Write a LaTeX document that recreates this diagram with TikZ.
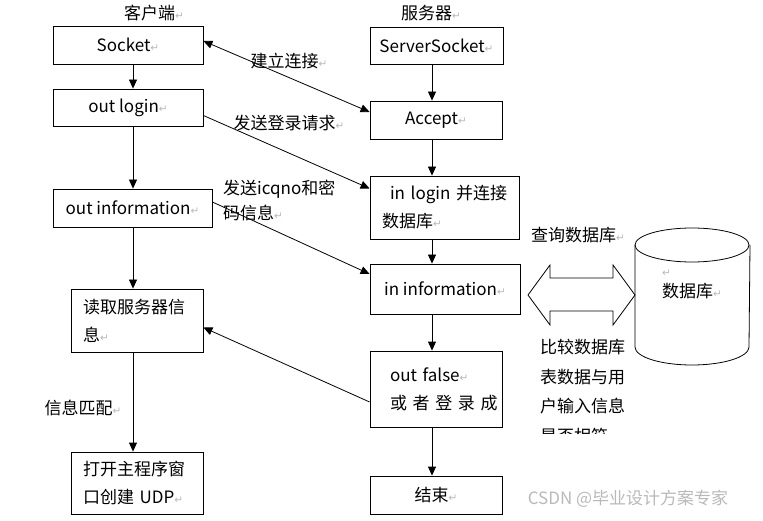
\documentclass[tikz,border=0pt]{standalone}
\usepackage{fontspec}
\setmainfont{Noto Sans CJK SC}
\newfontfamily\symfont{DejaVu Sans}
\usepackage{tikz}
\usetikzlibrary{arrows.meta}
\newcommand{\rt}{{\color{gray!55}\symfont\fontsize{10.5}{10.5}\selectfont ↵}}

\begin{document}
\begin{tikzpicture}[x=1pt,y=-1pt,
  font=\fontsize{17}{28}\selectfont,
  box/.style={draw,line width=.8pt,inner sep=0pt},
  tbox/.style={draw,line width=.8pt,align=left,inner xsep=12pt,inner ysep=0pt},
  lbl/.style={inner sep=0pt},
  arr/.style={line width=.8pt,-{Triangle[length=9pt,width=8pt]}},
  darr/.style={line width=.8pt,{Triangle[length=9pt,width=8pt]}-{Triangle[length=9pt,width=8pt]}}]
  \useasboundingbox (0,0) rectangle (763,521);
  \coordinate (lc) at (133,0);
  \coordinate (rc) at (432,0);
  \node[lbl] (client) at (154,13) {客户端\rt};
  \node[lbl] (serverlbl) at (431,13) {服务器\rt};
  \node[box,minimum width=150pt,minimum height=38pt] (socket) at (128,45) {Socket\rt};
  \node[box,minimum width=150pt,minimum height=37pt] (login) at (128,107.5) {out login\rt};
  \node[box,minimum width=159pt,minimum height=38pt] (info) at (132.5,208) {out information\rt};
  \node[tbox,text width=108pt,minimum height=63pt] (read) at (137,320.5) {读取服务器信\\息\rt};
  \node[tbox,text width=108pt,minimum height=62pt] (open) at (137,483) {打开主程序窗\\口创建 UDP\rt};
  \node[box,minimum width=133pt,minimum height=37pt] (server) at (436.5,45.5) {ServerSocket\rt};
  \node[box,minimum width=132pt,minimum height=38pt] (accept) at (436,120) {Accept\rt};
  \node[tbox,text width=125pt,minimum height=63pt] (inlogin) at (444.5,207.5) {\hspace*{8pt}\mbox{in login 并连接}\\数据库\rt};
  \node[box,minimum width=150pt,minimum height=50pt] (ininfo) at (445,289) {in information\rt};
  \node[tbox,text width=108pt,minimum height=76pt] (outfalse) at (436,389) {\hspace*{8pt}out false\rt\\\hspace*{8pt}\mbox{或 者 登 录 成}};
  \node[box,minimum width=132pt,minimum height=38pt] (finish) at (436,495) {结束\rt};
  \node[lbl] (connect) at (289,61) {建立连接\rt};
  \node[lbl] (request) at (289,123) {发送登录请求\rt};
  \node[lbl,anchor=west,align=left,font=\fontsize{17}{25}\selectfont] (send) at (223,200) {发送icqno和密\\码信息\rt};
  \node[lbl] (query) at (578,235) {查询数据库\rt};
  \node[lbl] (match) at (83,408) {信息匹配\rt};
  \draw[arr] (socket.south -| lc) -- (login.north -| lc);
  \draw[arr] (login.south -| lc) -- (info.north -| lc);
  \draw[arr] (info.south -| lc) -- (read.north -| lc);
  \draw[arr] (read.south -| lc) -- (open.north -| lc);
  \draw[arr] (server.south -| rc) -- (accept.north -| rc);
  \draw[arr] (accept.south -| rc) -- (inlogin.north -| rc);
  \draw[arr] (inlogin.south -| rc) -- (ininfo.north -| rc);
  \draw[arr] (ininfo.south -| rc) -- (outfalse.north -| rc);
  \draw[arr] (outfalse.south -| rc) -- (finish.north -| rc);
  \draw[darr] ([yshift=4pt]socket.east) -- ([yshift=8pt]accept.west);
  \draw[arr] ([yshift=-8pt]login.east) -- ([yshift=19pt]inlogin.west);
  \draw[arr] ([yshift=6pt]info.east) -- ([yshift=15pt]ininfo.west);
  \draw[arr] ([yshift=-13pt]outfalse.west) -- ([yshift=-7pt]read.east);
  % database
  \draw[line width=.8pt] (692,245) ellipse [x radius=57pt,y radius=17pt];
  \draw[line width=.8pt] (635,245) -- (635,347) arc[start angle=180,end angle=360,x radius=57pt,y radius=18pt] -- (750,245);
  \node[lbl,anchor=west,align=left,font=\fontsize{17}{21}\selectfont] (db) at (662,284) {\rt\\数据库\rt};
  \draw[line width=.8pt] (528,295) -- (550,265) -- (550,278) -- (613,278) -- (613,265) -- (635,295)
    -- (613,325) -- (613,311) -- (550,311) -- (550,325) -- cycle;
  \begin{scope}
    \clip (530,330) rectangle (634,433);
    \node[lbl,anchor=north west,align=left,font=\fontsize{17}{29.5}\selectfont] (compare) at (540,339) {比较数据库\\表数据与用\\户输入信息\\是否相符\rt};
  \end{scope}
  \node[lbl,text=gray!55,font=\fontsize{17}{17}\selectfont] (mark) at (628,499) {CSDN @毕业设计方案专家};
\end{tikzpicture}
\end{document}
